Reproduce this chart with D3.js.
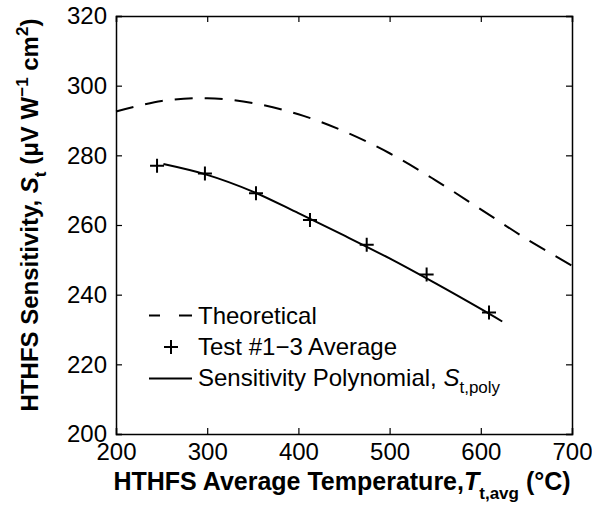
<!DOCTYPE html>
<html>
<head>
<meta charset="utf-8" />
<script src="https://d3js.org/d3.v7.min.js"></script>
<style>
  body { margin: 0; background: #fff; }
  svg text { font-family: "Liberation Sans", Arial, sans-serif; fill: #000; }
</style>
</head>
<body>
<div id="chart"></div>
<script>
// theoretical curve (dashed)
var theoT = [200, 250, 300, 350, 400, 450, 500, 550, 600, 650, 700];
var theoS = [292.6, 295.6, 296.4, 295.0, 291.8, 286.9, 280.6, 272.9, 264.5, 256.0, 248.3];

// test #1-3 average (markers)
var testT = [245, 297.5, 353.5, 412.7, 474.9, 540.6, 609];
var testS = [277.0, 274.8, 269.1, 261.4, 254.3, 245.8, 234.9];

// sensitivity polynomial (solid)
var polyT = [252, 300, 350, 400, 450, 500, 550, 600, 623.5];
var polyS = [277.5, 274.4, 269.6, 263.4, 257.0, 250.4, 243.3, 235.9, 232.3];

var xTicks = [200, 300, 400, 500, 600, 700];
var yTicks = [200, 220, 240, 260, 280, 300, 320];

var W = 592, H = 513;
var m = {left: 116, right: 20, top: 16, bottom: 79};
var fs = "24px", fsSub = "17px";

var svg = d3.select("#chart").append("svg")
    .attr("width", W).attr("height", H);

var x = d3.scaleLinear().domain([200, 700]).range([m.left, W - m.right]);
var y = d3.scaleLinear().domain([200, 320]).range([H - m.bottom, m.top]);

// axes: ticks pointing inward, on all four sides
var tl = 6;
svg.append("g").attr("transform", "translate(0," + y(200) + ")")
    .call(d3.axisBottom(x).tickValues(xTicks).tickSize(-tl).tickPadding(9));
svg.append("g").attr("transform", "translate(0," + y(320) + ")")
    .call(d3.axisTop(x).tickValues(xTicks).tickSize(-tl).tickFormat(""));
svg.append("g").attr("transform", "translate(" + x(200) + ",0)")
    .call(d3.axisLeft(y).tickValues(yTicks).tickSize(-tl).tickPadding(9));
svg.append("g").attr("transform", "translate(" + x(700) + ",0)")
    .call(d3.axisRight(y).tickValues(yTicks).tickSize(-tl).tickFormat(""));

svg.selectAll(".domain").attr("stroke", "#000").attr("stroke-width", 1.5);
svg.selectAll(".tick line").attr("stroke", "#000").attr("stroke-width", 1.2);
svg.selectAll(".tick text").style("font-size", fs).attr("fill", "#000");

var line = d3.line().x(function(d) { return x(d[0]); }).y(function(d) { return y(d[1]); })
    .curve(d3.curveCatmullRom);

svg.append("path")
    .datum(d3.zip(theoT, theoS))
    .attr("d", line)
    .attr("fill", "none").attr("stroke", "#000").attr("stroke-width", 2)
    .attr("stroke-dasharray", "18,12");

svg.append("path")
    .datum(d3.zip(polyT, polyS))
    .attr("d", line)
    .attr("fill", "none").attr("stroke", "#000").attr("stroke-width", 2);

function plus(g, cx, cy) {
    var s = 7;
    g.append("path")
        .attr("d", "M" + (cx - s) + "," + cy + "H" + (cx + s) + "M" + cx + "," + (cy - s) + "V" + (cy + s))
        .attr("stroke", "#000").attr("stroke-width", 2).attr("fill", "none");
}
var marks = svg.append("g");
testT.forEach(function(t, i) { plus(marks, x(t), y(testS[i])); });

// legend
var lg = svg.append("g");
var lx0 = 149, lx1 = 192, tx = 198;
lg.append("path").attr("d", "M" + lx0 + ",315.5H" + lx1)
    .attr("stroke", "#000").attr("stroke-width", 2).attr("stroke-dasharray", "11,19,14");
lg.append("text").attr("x", tx).attr("y", 324).style("font-size", fs).text("Theoretical");
plus(lg, 171, 347);
lg.append("text").attr("x", tx).attr("y", 354.5).style("font-size", fs).text("Test #1\u22123 Average");
lg.append("path").attr("d", "M" + lx0 + ",378.5H" + lx1)
    .attr("stroke", "#000").attr("stroke-width", 2);
var t3 = lg.append("text").attr("x", tx).attr("y", 385.5).style("font-size", fs);
t3.append("tspan").text("Sensitivity Polynomial, ");
t3.append("tspan").style("font-style", "italic").text("S");
t3.append("tspan").attr("dy", 7).style("font-size", fsSub).text("t,poly");

// x label
var xl = svg.append("text").attr("x", 342).attr("y", 490)
    .attr("text-anchor", "middle").style("font-size", "25px").style("font-weight", "bold");
xl.append("tspan").text("HTHFS Average Temperature,");
xl.append("tspan").style("font-style", "italic").text("T");
xl.append("tspan").attr("dy", 9).style("font-size", fsSub).text("t,avg");
xl.append("tspan").attr("dy", -9).text(" (\u00b0C)");

// y label
var yl = svg.append("text").attr("transform", "translate(38,215) rotate(-90)")
    .attr("text-anchor", "middle").style("font-size", fs).style("font-weight", "bold");
yl.append("tspan").text("HTHFS Sensitivity, ");
yl.append("tspan").style("font-style", "italic").text("S");
yl.append("tspan").attr("dy", 8).style("font-size", fsSub).text("t");
yl.append("tspan").attr("dy", -8).text(" (\u03bcV W");
yl.append("tspan").attr("dy", -10).style("font-size", fsSub).text("\u22121");
yl.append("tspan").attr("dy", 10).text(" cm");
yl.append("tspan").attr("dy", -10).style("font-size", fsSub).text("2");
yl.append("tspan").attr("dy", 10).text(")");
</script>
</body>
</html>
